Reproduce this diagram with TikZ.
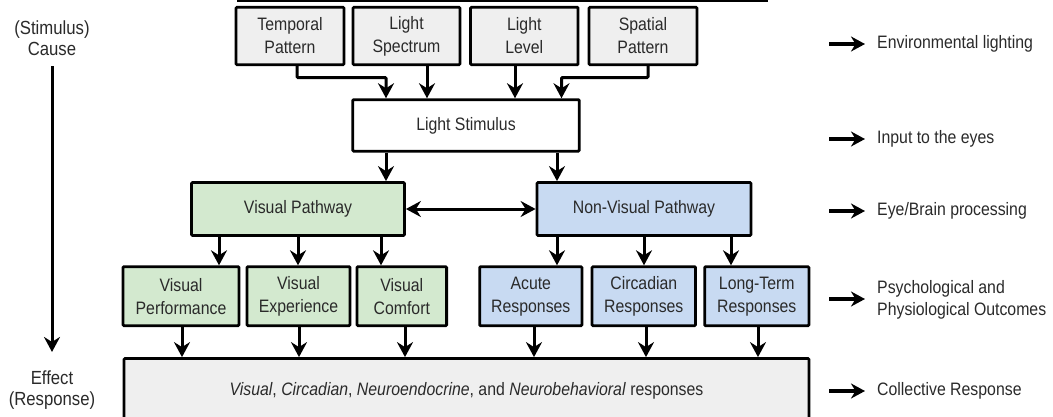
\documentclass[tikz,border=0pt]{standalone}
\usepackage{fontspec}
\setmainfont{Liberation Sans}
\newfontfamily\narrowfont[FakeStretch=0.88]{Liberation Sans}
\usetikzlibrary{arrows.meta,calc}
\definecolor{txt}{HTML}{2A2A2A}
\definecolor{greyfill}{HTML}{EFEFEF}
\definecolor{greenfill}{HTML}{D3E9CF}
\definecolor{bluefill}{HTML}{C8DAF2}
\tikzset{
  box/.style={draw=black,line width=2.8pt,rounded corners=1pt,align=center,inner sep=0pt,
    text=txt,font=\narrowfont\fontsize{18}{23}\selectfont},
  greybox/.style={box,fill=greyfill},
  whitebox/.style={box,fill=white},
  greenbox/.style={box,fill=greenfill},
  bluebox/.style={box,fill=bluefill},
  arr/.style={line width=3pt,-{Stealth[length=15pt,width=16pt,inset=5pt]}},
  darr/.style={line width=3pt,{Stealth[length=15pt,width=16pt,inset=5pt]}-{Stealth[length=15pt,width=16pt,inset=5pt]}},
  sarr/.style={line width=3.4pt,-{Stealth[length=14pt,width=15pt,inset=4.5pt]}},
  lab/.style={text=txt,font=\narrowfont\fontsize{19}{21}\selectfont,inner sep=0pt,align=center},
  rlab/.style={text=txt,font=\narrowfont\fontsize{18}{22}\selectfont,inner sep=0pt,anchor=west,align=left},
}
\begin{document}
\begin{tikzpicture}[x=1pt,y=-1pt]
\useasboundingbox (0,0) rectangle (1053,416);
\fill[white] (0,0) rectangle (1053,416);
% clipped rule at top
\draw[line width=1.5pt] (237,1) -- (768,1);

% top row
\node[greybox,minimum width=108,minimum height=57.5] (tp) at (290,36) {Temporal\\Pattern};
\node[greybox,minimum width=107,minimum height=57.5] (spc) at (406.5,36) {Light\\Spectrum};
\node[greybox,minimum width=107.5,minimum height=57.5] (lvl) at (524.3,36) {Light\\Level};
\node[greybox,minimum width=108,minimum height=57.5] (spa) at (643,36) {Spatial\\Pattern};

\node[whitebox,minimum width=226.5,minimum height=51.5] (ls) at (466,125.4) {Light Stimulus};

\node[greenbox,minimum width=213,minimum height=53] (vp) at (298,209) {Visual Pathway};
\node[bluebox,minimum width=214,minimum height=53] (nvp) at (644,209) {Non-Visual Pathway};

\node[greenbox,minimum width=116,minimum height=59] (vperf) at (181,296.2) {Visual\\Performance};
\node[greenbox,minimum width=103,minimum height=59] (vexp) at (298.5,296.2) {Visual\\Experience};
\node[greenbox,minimum width=89.6,minimum height=59] (vcom) at (401.8,296.2) {Visual\\Comfort};
\node[bluebox,minimum width=102.3,minimum height=59] (acu) at (530.8,296.2) {Acute\\Responses};
\node[bluebox,minimum width=103.5,minimum height=59] (cir) at (643.8,296.2) {Circadian\\Responses};
\node[bluebox,minimum width=104.3,minimum height=59] (lt) at (756.8,296.2) {Long-Term\\Responses};

\node[greybox,minimum width=685,minimum height=64] (coll) at (466.5,390.5)
  {\textit{Visual}, \textit{Circadian}, \textit{Neuroendocrine}, and \textit{Neurobehavioral} responses};

% x positions of connectors
\coordinate (xa) at (297,0);
\coordinate (xb) at (386,0);
\coordinate (xc) at (427,0);
\coordinate (xd) at (515,0);
\coordinate (xe) at (561.5,0);
\coordinate (xf) at (648,0);
\coordinate (xg) at (557,0);
\coordinate (v1) at (219,0);
\coordinate (v2) at (298,0);
\coordinate (v3) at (381,0);
\coordinate (n1) at (557,0);
\coordinate (n2) at (644,0);
\coordinate (n3) at (731,0);
\coordinate (b1) at (182,0);
\coordinate (b2) at (299,0);
\coordinate (b3) at (405,0);
\coordinate (b4) at (534,0);
\coordinate (b5) at (646,0);
\coordinate (b6) at (758,0);
\coordinate (ey) at (0,77.5);

% top to light stimulus
\draw[arr,rounded corners=1pt] (tp.south -| xa) -- (xa |- ey) -- (xb |- ey) -- (ls.north -| xb);
\draw[arr] (spc.south -| xc) -- (ls.north -| xc);
\draw[arr] (lvl.south -| xd) -- (ls.north -| xd);
\draw[arr,rounded corners=1pt] (spa.south -| xf) -- (xf |- ey) -- (xe |- ey) -- (ls.north -| xe);

% light stimulus to pathways
\draw[arr] (ls.south -| xb) -- (vp.north -| xb);
\draw[arr] (ls.south -| xg) -- (nvp.north -| xg);
\draw[darr] (vp.east) -- (nvp.west);

% pathways to outcomes
\draw[arr] (vp.south -| v1) -- (vperf.north -| v1);
\draw[arr] (vp.south -| v2) -- (vexp.north -| v2);
\draw[arr] (vp.south -| v3) -- (vcom.north -| v3);
\draw[arr] (nvp.south -| n1) -- (acu.north -| n1);
\draw[arr] (nvp.south -| n2) -- (cir.north -| n2);
\draw[arr] (nvp.south -| n3) -- (lt.north -| n3);

% outcomes to collective
\draw[arr] (vperf.south -| b1) -- (coll.north -| b1);
\draw[arr] (vexp.south -| b2) -- (coll.north -| b2);
\draw[arr] (vcom.south -| b3) -- (coll.north -| b3);
\draw[arr] (acu.south -| b4) -- (coll.north -| b4);
\draw[arr] (cir.south -| b5) -- (coll.north -| b5);
\draw[arr] (lt.south -| b6) -- (coll.north -| b6);

% left axis
\node[lab] (cause) at (52,38.5) {(Stimulus)\\Cause};
\node[lab] (effect) at (52,390.5) {Effect\\(Response)};
\draw[arr] ($(cause.south)+(0,10)$) -- ($(effect.north)+(0,-19)$);

% right labels
\node[rlab] (r1) at (877,44) {Environmental lighting};
\node[rlab] (r2) at (877,139) {Input to the eyes};
\node[rlab] (r3) at (877,211) {Eye/Brain processing};
\node[rlab] (r4) at (877,300) {Psychological and\\Physiological Outcomes};
\node[rlab] (r5) at (877,391) {Collective Response};
\foreach \r in {r1,r2,r3,r5}{
  \draw[sarr] ($(\r.west)+(-48,0)$) -- ($(\r.west)+(-12,0)$);
}
\draw[sarr] ($(r4.west)+(-48,-1)$) -- ($(r4.west)+(-12,-1)$);
\end{tikzpicture}
\end{document}
